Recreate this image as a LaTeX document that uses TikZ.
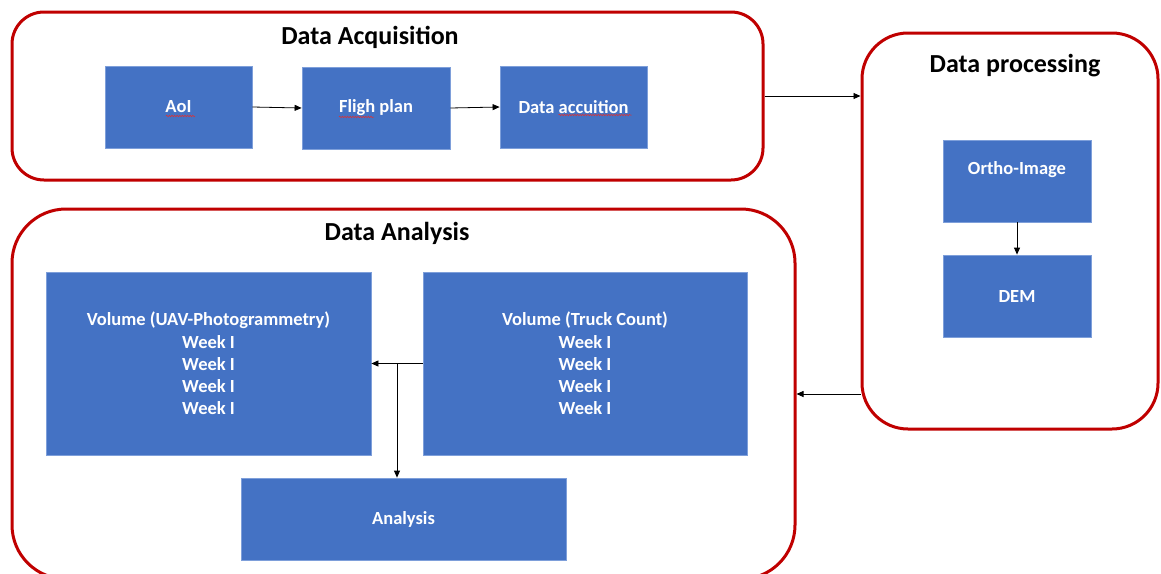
\documentclass[tikz,border=0pt]{standalone}
\usepackage{fontspec}
\setmainfont{Carlito}
\usetikzlibrary{arrows.meta,decorations.pathmorphing,backgrounds,calc}
\definecolor{boxblue}{HTML}{4472C4}
\definecolor{boxedge}{HTML}{7E9FDA}
\definecolor{panelred}{HTML}{C00000}
\definecolor{spellred}{HTML}{E03030}

\begin{document}
\begin{tikzpicture}[x=1pt,y=-1pt,
  panel/.style={draw=panelred, line width=3pt, rounded corners=32pt, fill=white, inner sep=0},
  stage/.style={fill=boxblue, draw=boxedge, line width=0.8pt, text=white, inner sep=0,
    font=\bfseries\fontsize{18.5}{22.3}\selectfont, align=center},
  boxtext/.style={text=white, font=\bfseries\fontsize{18.5}{22.3}\selectfont, inner sep=0},
  title/.style={font=\bfseries\fontsize{26}{30}\selectfont, inner sep=0},
  link/.style={-{Triangle[length=7pt,width=6pt]}, line width=0.8pt},
  squiggle/.style={draw=spellred, line width=0.5pt, decorate,
    decoration={snake, amplitude=0.8pt, segment length=2.6pt}}]

\useasboundingbox (0,0) rectangle (1161,573);
\fill[white] (0,0) rectangle (1161,573);

% the three stage panels
\node[panel, minimum width=751, minimum height=168] (acq) at (387.5,96) {};
\node[panel, minimum width=296, minimum height=396, rounded corners=46pt] (proc) at (1010,231) {};
\node[panel, minimum width=783, minimum height=370, rounded corners=54pt] (ana) at (403.5,394) {};

% panel titles
\node[title] (acqtitle) at (370,37) {Data Acquisition};
\node[title] (proctitle) at (1015,66) {Data processing};
\node[title] (anatitle) at (397,233) {Data Analysis};

% data acquisition steps
\node[stage, minimum width=147, minimum height=82] (aoi) at (178.5,107) {AoI};
\node[stage, minimum width=148, minimum height=82] (plan) at (376,108) {Fligh plan};
\node[stage, minimum width=147, minimum height=82] (acquire) at (573.5,107) {Data accuition};

% data processing products
\node[stage, minimum width=148, minimum height=82] (ortho) at (1017,181) {};
\node[boxtext] (orthotext) at ([yshift=11pt]ortho.center) {Ortho-Image};
\node[stage, minimum width=148, minimum height=82] (dem) at (1017,296) {DEM};

% data analysis blocks
\node[stage, minimum width=325, minimum height=183] (uav) at (208.5,363.5)
  {Volume (UAV-Photogrammetry)\\Week I\\Week I\\Week I\\Week I};
\node[stage, minimum width=324, minimum height=183] (truck) at (585,363.5)
  {Volume (Truck Count)\\Week I\\Week I\\Week I\\Week I};
\node[stage, minimum width=325, minimum height=82] (result) at (403.5,519) {Analysis};

% spell-check marks under the misspelled words
\draw[squiggle] ([xshift=-12.5pt,yshift=-9pt]aoi.center) -- ++(29,0);
\draw[squiggle] ([xshift=-37pt,yshift=-9pt]plan.center) -- ++(35,0);
\draw[squiggle] ([xshift=-15pt,yshift=-8pt]acquire.center) -- ++(73,0);

% connectors
\draw[link] (aoi.east) -- (plan.west);
\draw[link] (plan.east) -- (acquire.west);
\draw[link] (acq.east) -- (acq.east -| proc.west);
\draw[link] (ortho.south) -- (dem.north);
\coordinate (back) at ([yshift=-163pt]proc.west);
\draw[link] (back) -- (back -| ana.east);
\draw[link] (truck.west) -- (uav.east);
\coordinate (split) at ($(uav.east)!0.5!(truck.west)$);
\draw[link] (split) -- (split |- result.north);

% short stub below the truck-count block
\begin{pgfonlayer}{background}
\coordinate (stub) at ([xshift=114pt]truck.south);
\draw[link] ([yshift=20pt]stub) -- ([yshift=-6pt]stub);
\end{pgfonlayer}
\end{tikzpicture}
\end{document}
